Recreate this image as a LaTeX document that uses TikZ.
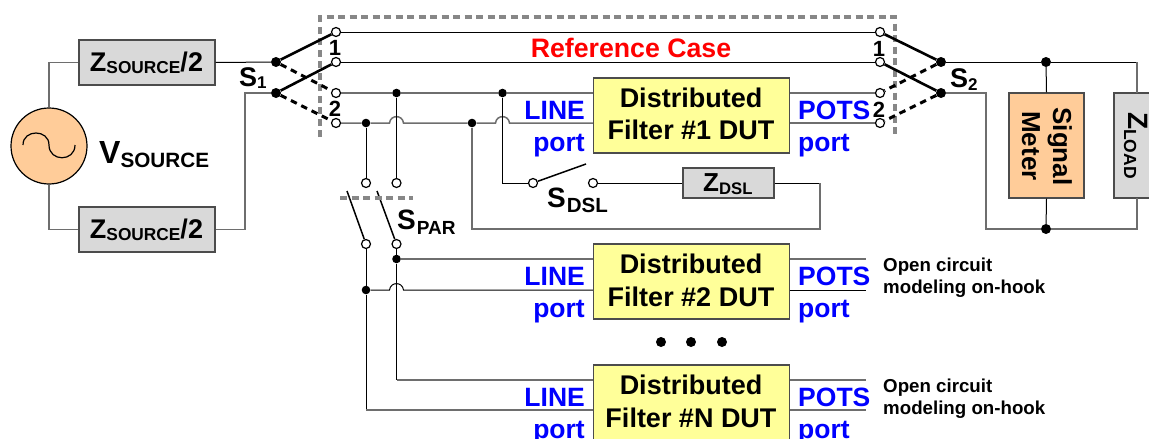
\documentclass[tikz,border=0pt]{standalone}
\usepackage{fontspec}
\setmainfont{Liberation Sans}
\definecolor{wiregray}{RGB}{110,110,110}
\definecolor{dashgray}{RGB}{135,135,135}
\definecolor{boxgray}{RGB}{217,217,217}
\definecolor{boxorange}{RGB}{255,204,153}
\definecolor{boxyellow}{RGB}{255,255,153}
\newcommand{\fs}[1]{\fontsize{#1}{#1}\selectfont\bfseries}
\newcommand{\Sub}[3]{\raisebox{-#1pt}{\fs{#2}#3}}
\tikzset{
  wire/.style={line width=1pt,black},
  gwire/.style={line width=1.5pt,wiregray},
  grayedge/.style={draw=black!70,line width=1.2pt},
  zbox/.style={grayedge,fill=boxgray,inner sep=0pt},
  dutbox/.style={grayedge,fill=boxyellow,inner sep=0pt,minimum width=196pt,minimum height=75pt},
  oc/.style={circle,draw=black,fill=white,line width=1.2pt,minimum size=9pt,inner sep=0pt},
  dot/.style={circle,fill=black,minimum size=8.6pt,inner sep=0pt},
  bigdot/.style={circle,fill=black,minimum size=10pt,inner sep=0pt},
  blade/.style={line width=2.6pt,black},
  bladed/.style={dash pattern=on 6.5pt off 5pt,line width=3pt,black},
  thinblade/.style={line width=1.5pt,black},
  pdash/.style={dash pattern=on 7pt off 4.5pt,line width=3.2pt,dashgray},
  txt/.style={inner sep=0pt,anchor=base,font=\fs{27}},
  lbl/.style={inner sep=0pt,text=blue,font=\fs{26.5}},
  note/.style={inner sep=0pt,anchor=base west,font=\fs{18.7}},
}
\newcommand{\Hop}[2]{ -- (#1-7,#2) .. controls (#1-6,#2-8.5) and (#1+6,#2-8.5) .. (#1+7,#2) }
\begin{document}
\begin{tikzpicture}[x=1pt,y=-1pt]
\useasboundingbox (0,0) rectangle (1149,439);
% dashed frame
\coordinate (fa) at (320,137); \coordinate (fb) at (320,17);
\coordinate (fc) at (895,17); \coordinate (fd) at (895,137);
\draw[pdash] (fa) -- (fb) -- (fc) -- (fd);
% boxes
\node[zbox,minimum width=136pt,minimum height=45pt] (zs1) at (147,62.5) {};
\node[zbox,minimum width=136pt,minimum height=45pt] (zs2) at (147,229.5) {};
\node[txt] (tzs1) at (146.5,71) {Z\Sub{2.5}{17.3}{SOURCE}/2};
\node[txt] (tzs2) at (146.5,238) {Z\Sub{2.5}{17.3}{SOURCE}/2};
\node[circle,draw=black,fill=boxorange,line width=1.2pt,minimum size=76pt,inner sep=0pt] (src) at (49,146) {};
\draw[line width=1.2pt] (23,145) .. controls (23,129) and (49,129) .. (49,145) .. controls (49,162) and (75,162) .. (75,145);
\node[txt,anchor=base west,font=\fs{32}] (tvs) at (99,163) {V\Sub{4}{20.7}{SOURCE}};
% contacts
\foreach \n/\y in {a/32,b/62,c/93,d/123}{
  \node[oc] (l\n) at (336,\y) {};
  \node[oc] (r\n) at (880,\y) {};
}
\node[bigdot] (s1a) at (276,62) {};
\node[bigdot] (s1b) at (276,93) {};
\node[bigdot] (s2a) at (941,62) {};
\node[bigdot] (s2b) at (941,93) {};
% DUT boxes
\node[dutbox] (d1) at (691.5,115.5) {};
\node[dutbox] (d2) at (691.5,281.5) {};
\node[dutbox] (dn) at (691.5,402.5) {};
\node[txt] (d1a) at (691,107) {Distributed};
\node[txt] (d1b) at (691,139) {Filter \#1 DUT};
\node[txt] (d2a) at (691,273) {Distributed};
\node[txt] (d2b) at (691,306) {Filter \#2 DUT};
\node[txt] (dna) at (691,394) {Distributed};
\node[txt] (dnb) at (691,427) {Filter \#N DUT};
% other boxes
\node[grayedge,fill=boxorange,minimum width=75pt,minimum height=105pt,inner sep=0pt] (meter) at (1046.5,145.5) {};
\node[txt,rotate=-90,font=\fs{26}] (tsig) at (1053,146.5) {Signal};
\node[txt,rotate=-90,font=\fs{26}] (tmet) at (1022,146) {Meter};
\node[zbox,minimum width=60pt,minimum height=105pt] (zl) at (1144,145.5) {};
\node[txt,rotate=-90,anchor=base west,font=\fs{28}] (tzl) at (1128,112) {Z\Sub{4}{17.5}{LOAD}};
\node[zbox,minimum width=91pt,minimum height=30pt] (zd) at (728.5,183) {};
\node[txt,anchor=base west,font=\fs{26}] (tzd) at (703,191) {Z\Sub{3.5}{16.7}{DSL}};
% junctions
\node[bigdot] (jm1) at (1046,62) {};
\node[bigdot] (jm2) at (1046,229) {};
\node[dot] (j1) at (396.5,93) {};
\node[dot] (j2) at (502.5,93) {};
\node[dot] (j3) at (366,123) {};
\node[dot] (j4) at (472,123) {};
\node[dot] (j5) at (396.5,259) {};
\node[dot] (j6) at (366,290) {};
% spar, sdsl contacts
\node[oc] (p1) at (366,183) {};
\node[oc] (p2) at (396.5,183) {};
\node[oc] (p3) at (366,244) {};
\node[oc] (p4) at (396.5,244) {};
\node[oc] (q1) at (533,183) {};
\node[oc] (q2) at (593,183) {};
\coordinate (pb1) at (347,191);
\coordinate (pb2) at (377,191);
\coordinate (qb) at (586,164);
\coordinate (sa) at (340,198); \coordinate (sb) at (413,198);
% source wires
\draw[gwire] (src.north) |- (zs1.west);
\draw[gwire] (src.south) |- (zs2.west);
\draw[wire] (zs1.east) -- (s1a);
\draw[gwire] (zs2.east) -- (245,229.5) -- (245,93) -- (s1b);
% S1/S2 blades
\draw[blade] (s1a) -- (la);
\draw[blade] (s1b) -- (lb);
\draw[bladed] (s1a) -- (lc);
\draw[bladed] (s1b) -- (ld);
\draw[blade] (s2a) -- (ra);
\draw[blade] (s2b) -- (rb);
\draw[bladed] (s2a) -- (rc);
\draw[bladed] (s2b) -- (rd);
% top pair
\draw[wire] (la) -- (ra);
\draw[wire] (lb) -- (rb);
% DUT1 left
\draw[gwire] (lc) -- (j1) -- (j2) -- (d1.west |- lc);
\draw[gwire] (ld) -- (j3) \Hop{396.5}{123} -- (j4) \Hop{502.5}{123} -- (d1.west |- ld);
% DUT1 right
\draw[gwire] (d1.east |- rc) -- (rc);
\draw[gwire] (d1.east |- rd) -- (rd);
% right wires
\draw[wire] (s2a) -- (jm1) -- (1137,62);
\draw[gwire] (1137,62) -- (1137,93);
\draw[gwire] (s2b) -- (986,93) |- (jm2);
\draw[gwire] (jm2) -| (1137,198);
\draw[wire] (jm1) -- (meter.north);
\draw[wire] (meter.south) -- (jm2);
% SPAR
\draw[wire] (j3) -- (p1);
\draw[wire] (j1) -- (p2);
\draw[thinblade] (p3) -- (pb1);
\draw[thinblade] (p4) -- (pb2);
\draw[pdash] (sa) -- (sb);
\draw[wire] (p4) -- (j5) -- (396.5,380);
\draw[wire] (p3) -- (j6) -- (366,410);
\draw[gwire] (396.5,380) -- (dn.west |- 0,380);
\draw[gwire] (366,410) -- (dn.west |- 0,410);
\draw[gwire] (j5) -- (d2.west |- j5);
\draw[wire] (j6) \Hop{396.5}{290} -- (d2.west |- j6);
% SDSL
\draw[wire] (j2) |- (q1);
\draw[thinblade] (q1) -- (qb);
\draw[wire] (q2) -- (zd.west);
\draw[wire] (zd.east) -- (820,183);
\draw[gwire] (j4) -- (472,229) -- (820,229) -- (820,183);
% POTS open
\coordinate (o1) at (866,259); \coordinate (o2) at (866,290);
\coordinate (o3) at (866,380); \coordinate (o4) at (866,410);
\draw[gwire] (d2.east |- o1) -- (o1);
\draw[wire] (d2.east |- o2) -- (o2);
\draw[gwire] (dn.east |- o3) -- (o3);
\draw[gwire] (dn.east |- o4) -- (o4);
% labels
\node[txt,text=red,font=\fs{26.7}] (tref) at (631,57) {Reference Case};
\node[txt,anchor=base west] (ts1) at (239,86) {S\Sub{2}{17}{1}};
\node[txt,anchor=base west] (ts2) at (950,87) {S\Sub{3}{17}{2}};
\node[txt,anchor=base west,font=\fs{28}] (tsd) at (547,207) {S\kern1pt\Sub{5}{20.5}{DSL}};
\node[txt,anchor=base west,font=\fs{28}] (tsp) at (397,229) {S\kern1pt\Sub{5}{19}{PAR}};
\node[txt,font=\fs{22}] (n1) at (335,55) {1};
\node[txt,font=\fs{22}] (n2) at (335,116) {2};
\node[txt,font=\fs{22}] (n3) at (879,56) {1};
\node[txt,font=\fs{22}] (n4) at (879,117) {2};
\foreach \yy in {119,285,406}{
  \node[lbl,anchor=base east] (li\yy) at (585,\yy) {LINE};
  \node[lbl,anchor=base west] (po\yy) at (798,\yy) {POTS};
}
\foreach \yy in {151,317,438}{
  \node[lbl,anchor=base east] (pl\yy) at (585,\yy) {port};
  \node[lbl,anchor=base west] (pr\yy) at (798,\yy) {port};
}
\node[note] (oc1) at (883,271) {Open circuit};
\node[note] (mo1) at (883,293) {modeling on-hook};
\node[note] (oc2) at (883,392) {Open circuit};
\node[note] (mo2) at (883,414) {modeling on-hook};
\foreach \xx in {661,691,722}{ \fill (\xx,342) circle (5pt); }
\end{tikzpicture}
\end{document}
